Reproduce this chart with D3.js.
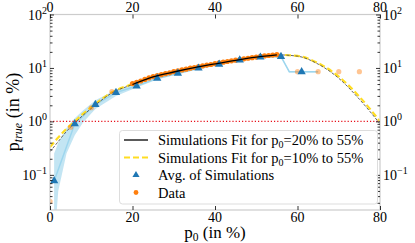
<!DOCTYPE html>
<html>
<head>
<meta charset="utf-8">
<script src="https://cdn.jsdelivr.net/npm/d3@7/dist/d3.min.js"></script>
<style>
  body { margin: 0; background: #fff; }
</style>
</head>
<body>
<div id="chart"></div>
<script>
// data
var dataX = d3.range(20, 56);
var dataY = [5.1, 5.4, 5.7, 6.1, 6.5, 6.9, 7.2, 7.5, 7.8, 8.1, 8.5, 8.8, 9.2, 9.5, 9.9, 10.2,
             10.6, 10.9, 11.3, 11.6, 12.0, 12.4, 12.8, 13.2, 13.6, 14.0, 14.4, 14.8, 15.2, 15.6,
             16.0, 16.4, 16.8, 17.1, 17.4, 17.7];
var fadedX = [0, 5, 10, 15, 60, 65, 70, 75];
var fadedY = [0.032, 0.78, 1.8, 3.6, 8.5, 8.5, 8.5, 8.5];

var simX = [1, 6, 11, 16, 21, 26, 31, 36, 41, 46, 51, 56, 61];
var simY = [0.077, 0.9, 2.07, 3.47, 4.6, 6.4, 7.9, 9.9, 11.7, 14.1, 15.9, 16.3, 8.5];

var meanX = [1, 6, 11, 16, 21, 26, 31, 36, 41, 46, 51, 56, 58, 61, 65];
var meanY = [0.077, 0.9, 2.07, 3.47, 4.6, 6.4, 7.9, 9.9, 11.7, 14.1, 15.9, 16.3, 8.5, 8.5, 8.5];

var bandX = [1, 2, 4, 6, 8, 11, 16, 21, 26, 31, 36, 41, 46, 51, 56, 58, 61, 65];
var bandLo = [0.005, 0.05, 0.25, 0.55, 0.95, 1.7, 3.0, 4.3, 6.1, 7.6, 9.6, 11.4, 13.8, 15.6, 16.0, 8.2, 8.2, 8.2];
var bandHi = [0.25, 0.4, 0.75, 1.15, 1.6, 2.5, 3.9, 4.9, 6.7, 8.2, 10.2, 12.0, 14.4, 16.2, 16.6, 8.8, 8.8, 8.8];

var fitX = [20, 25, 30, 35, 40, 45, 50, 55];
var fitY = [4.9, 6.8, 8.4, 10.1, 11.9, 13.9, 15.9, 17.6];

var curveX = [0, 2, 4, 6, 8, 10, 15, 20, 25, 30, 35, 40, 45, 50, 55, 60, 65, 70, 75, 80];
var grayY = [0.27, 0.42, 0.65, 0.93, 1.3, 1.75, 3.4, 4.9, 6.8, 8.4, 10.1, 11.9, 13.9, 15.9, 17.6, 16.6, 11.8, 6.4, 2.6, 0.9];
var yellowY = [0.33, 0.5, 0.73, 1.0, 1.38, 1.85, 3.5, 5.0, 6.8, 8.5, 10.2, 12.0, 14.0, 16.0, 17.6, 16.8, 12.3, 6.9, 2.9, 1.0];

var xTicks = [0, 20, 40, 60, 80];
var yExps = [-1, 0, 1, 2];

var legendLabels = [
    ["Simulations Fit for p", "0", "=20% to 55%"],
    ["Simulations Fit for p", "0", "=10% to 55%"],
    ["Avg. of Simulations"],
    ["Data"]
];

var w = 415, h = 243;
var mLeft = 50, mRight = 380, mTop = 14.5, mBottom = 210;

var svg = d3.select("#chart").append("svg")
    .attr("width", w)
    .attr("height", h)
    .attr("font-family", "'Liberation Serif', serif");

var x = d3.scaleLinear().domain([0, 80]).range([mLeft, mRight]);
var y = d3.scaleLog().domain([0.022, 100]).range([mBottom, mTop]);

svg.append("clipPath").attr("id", "clip")
    .append("rect")
    .attr("x", mLeft).attr("y", mTop)
    .attr("width", mRight - mLeft).attr("height", mBottom - mTop);

var plot = svg.append("g").attr("clip-path", "url(#clip)");

// band
var area = d3.area()
    .x(function (d, i) { return x(bandX[i]); })
    .y0(function (d, i) { return y(bandLo[i]); })
    .y1(function (d, i) { return y(bandHi[i]); });
plot.append("path")
    .datum(bandX)
    .attr("d", area)
    .attr("fill", "#87cbe8")
    .attr("fill-opacity", 0.5);

plot.append("path")
    .datum(meanX)
    .attr("d", d3.line()
        .x(function (d, i) { return x(meanX[i]); })
        .y(function (d, i) { return y(meanY[i]); }))
    .attr("fill", "none")
    .attr("stroke", "#9dd6ee")
    .attr("stroke-width", 1.5);

var smooth = function (ys) {
    return d3.line()
        .x(function (d, i) { return x(curveX[i]); })
        .y(function (d, i) { return y(ys[i]); })
        .curve(d3.curveMonotoneX);
};

plot.append("path")
    .datum(curveX)
    .attr("d", smooth(yellowY))
    .attr("fill", "none")
    .attr("stroke", "#ffdd22")
    .attr("stroke-width", 2.2)
    .attr("stroke-dasharray", "6,3");

plot.append("path")
    .datum(curveX)
    .attr("d", smooth(grayY))
    .attr("fill", "none")
    .attr("stroke", "#555")
    .attr("stroke-width", 0.9)
    .attr("stroke-dasharray", "3,1.5");

// faded points
plot.selectAll(".faded")
    .data(fadedX)
    .enter()
    .append("circle")
    .attr("cx", function (d) { return x(d); })
    .attr("cy", function (d, i) { return y(fadedY[i]); })
    .attr("r", 2.6)
    .attr("fill", "#ff7f0e")
    .attr("fill-opacity", 0.45);

plot.selectAll(".data")
    .data(dataX)
    .enter()
    .append("circle")
    .attr("cx", function (d) { return x(d); })
    .attr("cy", function (d, i) { return y(dataY[i]); })
    .attr("r", 2.6)
    .attr("fill", "#ff7f0e");

var tri = d3.symbol().type(d3.symbolTriangle).size(30);
plot.selectAll(".sim")
    .data(simX)
    .enter()
    .append("path")
    .attr("d", tri)
    .attr("transform", function (d, i) {
        return "translate(" + x(d) + "," + y(simY[i]) + ")";
    })
    .attr("fill", "#1f77b4");

plot.append("path")
    .datum(fitX)
    .attr("d", d3.line()
        .x(function (d, i) { return x(fitX[i]); })
        .y(function (d, i) { return y(fitY[i]); })
        .curve(d3.curveMonotoneX))
    .attr("fill", "none")
    .attr("stroke", "#000")
    .attr("stroke-width", 1.3);

// red dotted line at 1%
plot.append("line")
    .attr("x1", x(0)).attr("x2", x(80))
    .attr("y1", y(1)).attr("y2", y(1))
    .attr("stroke", "#e8101a")
    .attr("stroke-width", 1.2)
    .attr("stroke-dasharray", "1.2,2");

// spines
svg.append("rect")
    .attr("x", mLeft).attr("y", mTop)
    .attr("width", mRight - mLeft).attr("height", mBottom - mTop)
    .attr("fill", "none")
    .attr("stroke", "#cccccc")
    .attr("stroke-width", 1.2);

// ticks
var majors = yExps.map(function (e) { return Math.pow(10, e); });
var minors = y.ticks().filter(function (v) {
    var l = Math.log10(v);
    return Math.abs(l - Math.round(l)) > 1e-6;
});

function styleAxis(g) {
    g.select(".domain").remove();
    g.selectAll("line").attr("stroke", "#000").attr("stroke-width", 0.8);
}

svg.append("g").attr("transform", "translate(" + mLeft + ",0)")
    .call(d3.axisLeft(y).tickValues(majors).tickSize(-4).tickFormat("")).call(styleAxis);
svg.append("g").attr("transform", "translate(" + mLeft + ",0)")
    .call(d3.axisLeft(y).tickValues(minors).tickSize(-2.5).tickFormat("")).call(styleAxis);
svg.append("g").attr("transform", "translate(" + mRight + ",0)")
    .call(d3.axisRight(y).tickValues(majors).tickSize(-4).tickFormat("")).call(styleAxis);
svg.append("g").attr("transform", "translate(" + mRight + ",0)")
    .call(d3.axisRight(y).tickValues(minors).tickSize(-2.5).tickFormat("")).call(styleAxis);
svg.append("g").attr("transform", "translate(0," + mBottom + ")")
    .call(d3.axisBottom(x).tickValues(xTicks).tickSize(-4).tickFormat("")).call(styleAxis);
svg.append("g").attr("transform", "translate(0," + mTop + ")")
    .call(d3.axisTop(x).tickValues(xTicks).tickSize(-4).tickFormat("")).call(styleAxis);

// tick labels
xTicks.forEach(function (t) {
    svg.append("text").attr("x", x(t)).attr("y", 12).attr("text-anchor", "middle")
        .attr("font-size", "14px").text(t);
    svg.append("text").attr("x", x(t)).attr("y", 222).attr("text-anchor", "middle")
        .attr("font-size", "14px").text(t);
});

function powLabel(xp, yp, e, anchor) {
    var t = svg.append("text").attr("x", xp).attr("y", yp + 5)
        .attr("text-anchor", anchor).attr("font-size", "14px");
    t.append("tspan").text("10");
    t.append("tspan").attr("dy", "-6").attr("font-size", "10px").text(e < 0 ? "\u2212" + (-e) : e);
}
yExps.forEach(function (e) {
    powLabel(mLeft - 3, y(Math.pow(10, e)), e, "end");
    powLabel(mRight + 3, y(Math.pow(10, e)), e, "start");
});

// axis labels
var xl = svg.append("text").attr("x", 215).attr("y", 238).attr("text-anchor", "middle")
    .attr("font-size", "17px");
xl.append("tspan").text("p");
xl.append("tspan").attr("dy", "3").attr("font-size", "11.5px").text("0");
xl.append("tspan").attr("dy", "-3").text(" (in %)");

var yl = svg.append("text").attr("transform", "translate(19,112) rotate(-90)")
    .attr("text-anchor", "middle").attr("font-size", "18px");
yl.append("tspan").text("p");
yl.append("tspan").attr("dy", "3").attr("font-size", "12px").attr("font-style", "italic").text("true");
yl.append("tspan").attr("dy", "-3").text(" (in %)");

// legend
var lg = svg.append("g");
lg.append("rect")
    .attr("x", 119.5).attr("y", 130.5).attr("width", 258).attr("height", 73.5)
    .attr("rx", 3).attr("fill", "#fff").attr("fill-opacity", 0.85)
    .attr("stroke", "#dddddd").attr("stroke-width", 1);

var rowY = [140, 157.5, 175, 192.5];
lg.append("line").attr("x1", 124).attr("x2", 148).attr("y1", rowY[0]).attr("y2", rowY[0])
    .attr("stroke", "#000").attr("stroke-width", 1.3);
lg.append("line").attr("x1", 124).attr("x2", 148).attr("y1", rowY[1]).attr("y2", rowY[1])
    .attr("stroke", "#ffdd22").attr("stroke-width", 2.2).attr("stroke-dasharray", "6,3");
lg.append("path").attr("d", d3.symbol().type(d3.symbolTriangle).size(22))
    .attr("transform", "translate(136," + rowY[2] + ")").attr("fill", "#1f77b4");
lg.append("circle").attr("cx", 136).attr("cy", rowY[3]).attr("r", 2.4).attr("fill", "#ff7f0e");

legendLabels.forEach(function (parts, i) {
    var t = lg.append("text").attr("x", 158).attr("y", rowY[i] + 5).attr("font-size", "14.5px");
    t.append("tspan").text(parts[0]);
    if (parts.length > 1) {
        t.append("tspan").attr("dy", "3").attr("font-size", "10px").text(parts[1]);
        t.append("tspan").attr("dy", "-3").text(parts[2]);
    }
});
</script>
</body>
</html>
